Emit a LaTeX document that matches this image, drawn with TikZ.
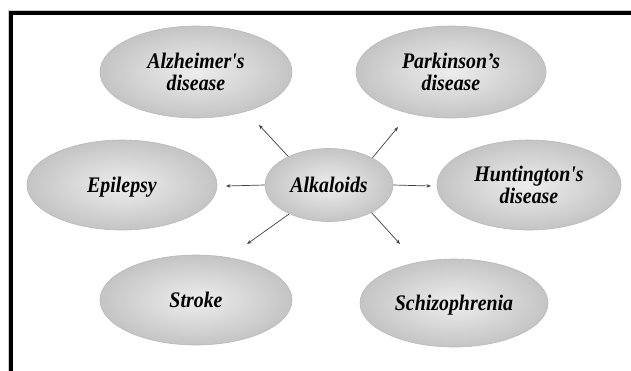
\documentclass[tikz,border=0pt]{standalone}
\usepackage{fontspec}
\usepackage{graphicx}
\setmainfont{Liberation Serif}
\usetikzlibrary{shapes.geometric,arrows.meta}
\newcommand\bubtext[1]{\raisebox{-3pt}[\height][\depth]{\scalebox{1.02}[1.14]{\begin{tabular}{@{}c@{}}#1\end{tabular}}}}
\tikzset{
  bubble/.style={ellipse, draw=gray!55, line width=0.6pt, inner sep=0pt,
    inner color=gray!14, outer color=gray!46,
    font=\fontsize{19.5}{18}\selectfont\bfseries\itshape, text=black,
    align=center},
  conn/.style={-{Stealth[length=4.5pt,width=3.5pt]}, draw=black!75, line width=0.7pt},
  frameline/.style={line width=4pt, draw=black},
}
\begin{document}
\begin{tikzpicture}[x=1pt,y=-1pt]
\useasboundingbox (0,0) rectangle (631,370);
\fill[white] (0,0) rectangle (631,370);
% frame
\draw[gray!40, line width=1pt] (8,372) -- (8,10) -- (633,10);
\draw[frameline] (10.5,372) -- (10.5,13) -- (633,13);
% nodes
\node[bubble, minimum width=192pt, minimum height=92pt] (alz) at (196,72) {\bubtext{Alzheimer\textquotesingle s\\disease}};
\node[bubble, minimum width=190pt, minimum height=92pt] (park) at (451,72) {\bubtext{Parkinson’s\\disease}};
\node[bubble, minimum width=190pt, minimum height=90pt] (epi) at (122,185) {\bubtext{Epilepsy}};
\node[bubble, minimum width=128pt, minimum height=73pt] (alk) at (329,185) {\bubtext{Alkaloids}};
\node[bubble, minimum width=184pt, minimum height=90pt] (hunt) at (529,185) {\bubtext{Huntington\textquotesingle s\\disease}};
\node[bubble, minimum width=192pt, minimum height=90pt] (stroke) at (196,300) {\bubtext{Stroke}};
\node[bubble, minimum width=188pt, minimum height=88pt] (schiz) at (454,303) {\bubtext{Schizophrenia}};
% arrow ends
\coordinate (eul) at (259,125);
\coordinate (eur) at (398,127);
\coordinate (el) at (226,186);
\coordinate (er) at (431,186);
\coordinate (edl) at (247,244);
\coordinate (edr) at (400,244);
\draw[conn] (alk.145.7) -- (eul);
\draw[conn] (alk.32.5) -- (eur);
\draw[conn] (alk.180) -- (el);
\draw[conn] (alk.0) -- (er);
\draw[conn] (alk.216.9) -- (edl);
\draw[conn] (alk.327.9) -- (edr);
\end{tikzpicture}
\end{document}
